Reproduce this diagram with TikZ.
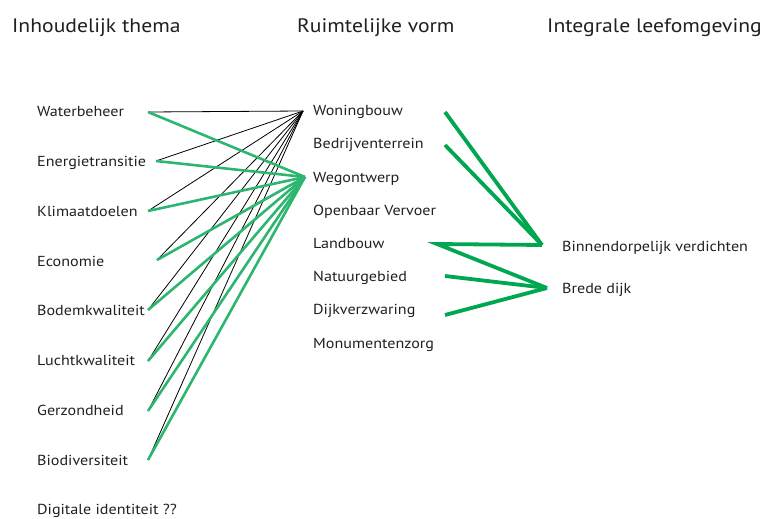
\documentclass[tikz,border=0pt]{standalone}
\usepackage{fontspec}
\setmainfont{PT Sans}[FakeStretch=1.11]
\definecolor{lgreen}{RGB}{44,182,112}
\definecolor{dgreen}{RGB}{0,166,80}
\definecolor{txt}{RGB}{35,31,32}
\begin{document}
\begin{tikzpicture}[x=1pt,y=-1pt,
  head/.style={anchor=base west,inner sep=0pt,font=\fontsize{19.5}{24}\selectfont,text=txt},
  item/.style={anchor=base west,inner sep=0pt,font=\fontsize{14.5}{17}\selectfont,text=txt},
  blk/.style={draw=black,line width=0.8pt},
  lg/.style={draw=lgreen,line width=2.6pt},
  dg/.style={draw=dgreen,line width=3.8pt,line join=miter}]
\useasboundingbox (0,0) rectangle (763,519);
% headings
\node[head] (h1) at (12,33) {Inhoudelijk thema};
\node[head] (h2) at (297,33) {Ruimtelijke vorm};
\node[head] (h3) at (547,33) {Integrale leefomgeving};
% left items
\node[item] (l1) at (37,116) {Waterbeheer};
\node[item] (l2) at (37,166) {Energietransitie};
\node[item] (l3) at (37,216) {Klimaatdoelen};
\node[item] (l4) at (37,266) {Economie};
\node[item] (l5) at (37,315) {Bodemkwaliteit};
\node[item] (l6) at (37,365) {Luchtkwaliteit};
\node[item] (l7) at (37,415) {Gerzondheid};
\node[item] (l8) at (37,465) {Biodiversiteit};
\node[item] (l9) at (37,514) {Digitale identiteit ??};
% middle items
\node[item] (m1) at (313,115) {Woningbouw};
\node[item] (m2) at (313,148) {Bedrijventerrein};
\node[item] (m3) at (313,182) {Wegontwerp};
\node[item] (m4) at (313,215) {Openbaar Vervoer};
\node[item] (m5) at (313,248) {Landbouw};
\node[item] (m6) at (313,281) {Natuurgebied};
\node[item] (m7) at (313,314) {Dijkverzwaring};
\node[item] (m8) at (313,348) {Monumentenzorg};
% right items
\node[item] (r1) at (562,251) {Binnendorpelijk verdichten};
\node[item] (r2) at (562,293) {Brede dijk};
% connector ends
\coordinate (a1) at (148,112);
\coordinate (a2) at (156,161);
\coordinate (a3) at (148,211);
\coordinate (a4) at (157,260);
\coordinate (a5) at (148,310);
\coordinate (a6) at (148,361);
\coordinate (a7) at (148,411);
\coordinate (a8) at (148,460);
\coordinate (bW) at (303,111);
\coordinate (gW) at (305,177);
\coordinate (b1) at (445,112);
\coordinate (b2) at (445,145);
\coordinate (b5) at (437,244);
\coordinate (b6) at (445,276);
\coordinate (b7) at (445,315);
\coordinate (c1) at (542,245);
\coordinate (c2) at (547,288);
% black lines
\foreach \i in {1,...,8} \draw[blk] (a\i) -- (bW);
% green lines
\foreach \i in {1,...,8} \draw[lg] (a\i) -- (gW);
% right lines
\draw[dg] (b1) -- (c1);
\draw[dg] (b2) -- (c1);
\draw[dg] (c1) -- (b5) -- (c2);
\draw[dg] (b6) -- (c2);
\draw[dg] (b7) -- (c2);
\end{tikzpicture}
\end{document}
